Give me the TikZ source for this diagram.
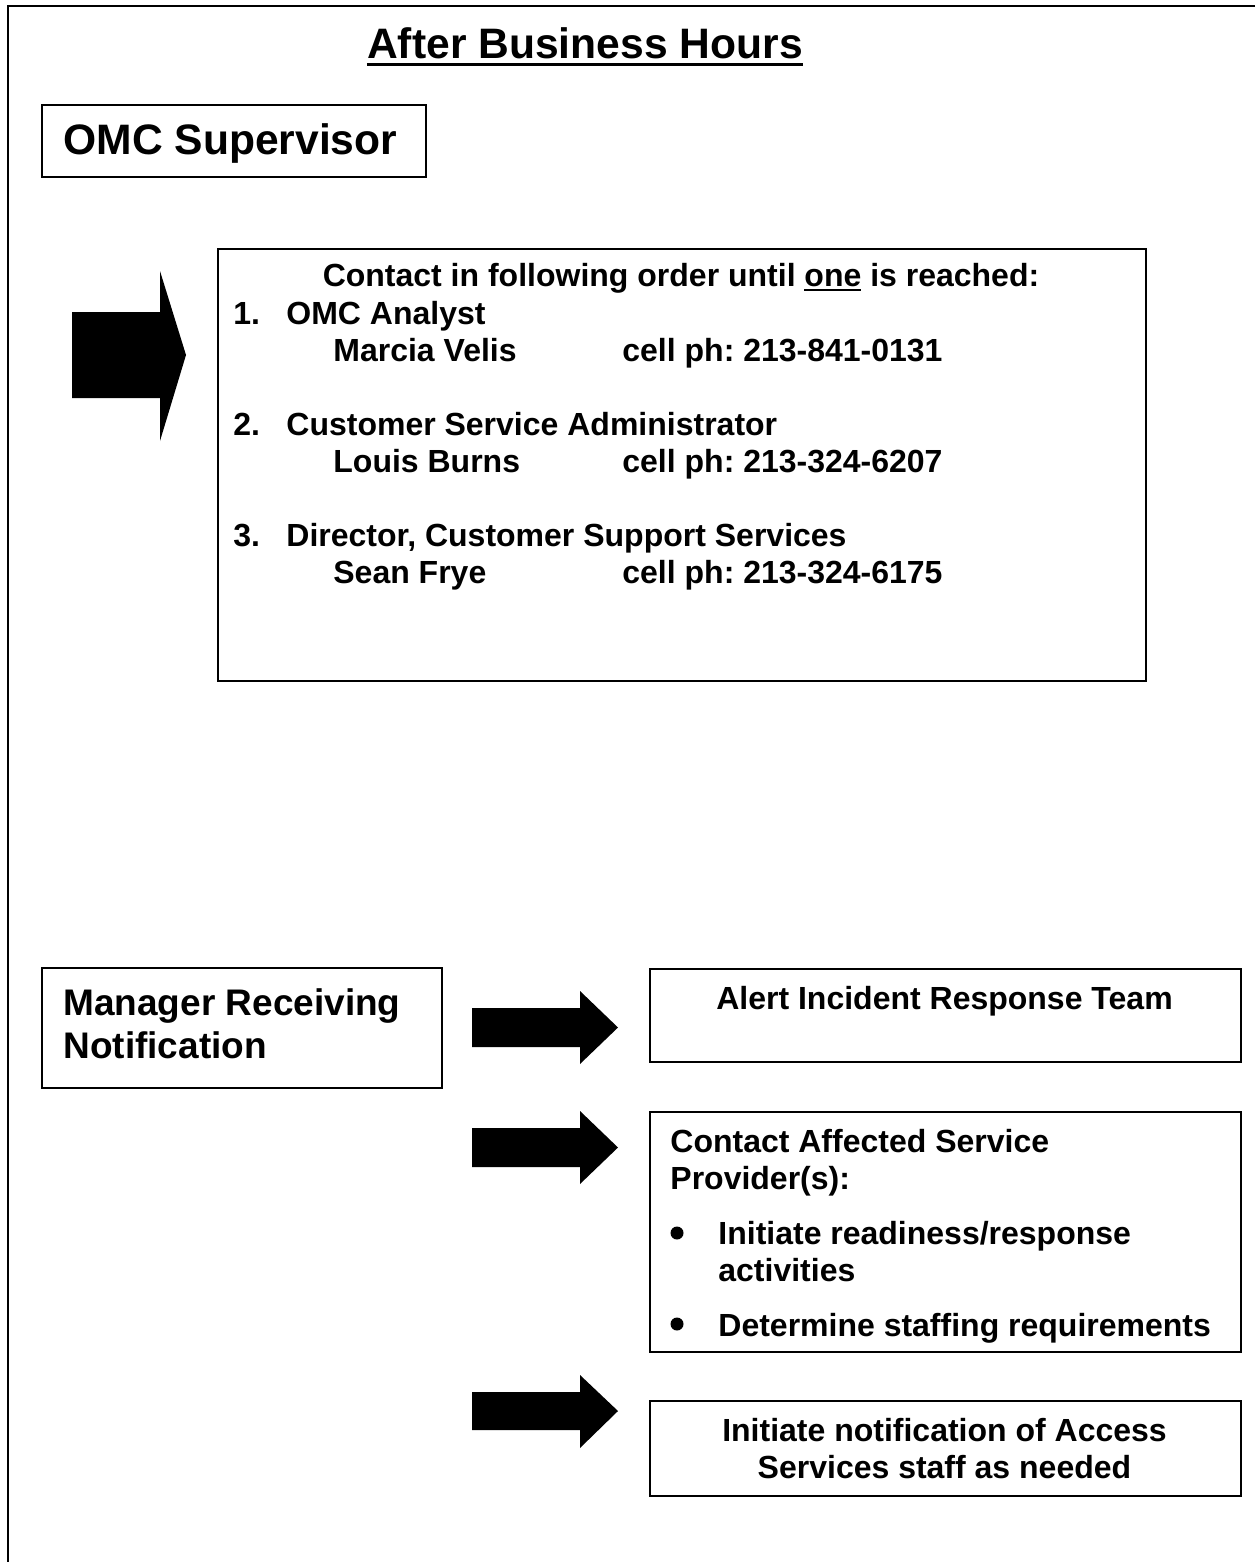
\documentclass[tikz,border=0pt]{standalone}
\usepackage{fontspec}
\setmainfont{Liberation Sans}
\frenchspacing
\newcommand\myul[1]{\setbox0\hbox{#1}\rlap{\rule[-2.6pt]{\wd0}{1pt}}\box0\relax}
\begin{document}
\begin{tikzpicture}[x=0.5pt,y=-0.5pt,
  box/.style={draw, line width=0.8pt, inner sep=0pt, anchor=north west},
  txt/.style={inner sep=0pt, anchor=base west, font=\fontsize{16}{18.4}\selectfont\bfseries},
  ctxt/.style={txt, anchor=base},
  bigtxt/.style={txt, font=\fontsize{21.3}{24.5}\selectfont\bfseries},
  midtxt/.style={txt, font=\fontsize{18.5}{21.3}\selectfont\bfseries},
  blockarrow/.style={fill=black}]
\useasboundingbox (0,0) rectangle (1255,1562);
% outer frame (top and left visible)
\draw[line width=1.2pt] (1255,6) -- (8,6) -- (8,1562);

% title
\node[bigtxt, anchor=base] (title) at (585,59) {After Business Hours};
\draw[line width=1.5pt] ([yshift=-2.8pt]title.base west) -- ([yshift=-2.8pt]title.base east);

% OMC Supervisor
\node[box, minimum width=192pt, minimum height=36pt] (omcbox) at (41,104) {};
\node[bigtxt] (omc) at (63,155) {OMC Supervisor};

% big block arrow
\fill[blockarrow] (72,312) -- (160,312) -- (160,271) -- (186,355) -- (160,441) -- (160,398) -- (72,398) -- cycle;

% contact box
\node[box, minimum width=464pt, minimum height=216pt] (cbox) at (217,248) {};
\node[ctxt] (chead) at (681,286) {Contact in following order until \myul{one} is reached:};
\node[txt] (n1) at (233,324) {1.};
\node[txt] (r1) at (286,324) {OMC Analyst};
\node[txt] (p1) at (333,361) {Marcia Velis};
\node[txt] (t1) at (622,361) {cell ph: 213-841-0131};
\node[txt] (n2) at (233,435) {2.};
\node[txt] (r2) at (286,435) {Customer Service Administrator};
\node[txt] (p2) at (333,472) {Louis Burns};
\node[txt] (t2) at (622,472) {cell ph: 213-324-6207};
\node[txt] (n3) at (233,546) {3.};
\node[txt] (r3) at (286,546) {Director, Customer Support Services};
\node[txt] (p3) at (333,583) {Sean Frye};
\node[txt] (t3) at (622,583) {cell ph: 213-324-6175};

% manager box
\node[box, minimum width=200pt, minimum height=60pt] (mgrbox) at (41,967) {};
\node[midtxt] (mgr1) at (63,1015) {Manager Receiving};
\node[midtxt] (mgr2) at (63,1058) {Notification};

% small block arrows
\fill[blockarrow] (472,1008) -- (580,1008) -- (580,991) -- (618,1027.5) -- (580,1064) -- (580,1047) -- (472,1047) -- cycle;
\fill[blockarrow] (472,1128) -- (580,1128) -- (580,1111) -- (618,1147.5) -- (580,1184) -- (580,1167) -- (472,1167) -- cycle;
\fill[blockarrow] (472,1392) -- (580,1392) -- (580,1375) -- (618,1411) -- (580,1448) -- (580,1430) -- (472,1430) -- cycle;

% alert box
\node[box, minimum width=295.5pt, minimum height=46.5pt] (alertbox) at (649,968) {};
\node[ctxt] (alert) at (944.5,1009) {Alert Incident Response Team};

% affected providers box
\node[box, minimum width=295.5pt, minimum height=120pt] (affbox) at (649,1111) {};
\node[txt] (aff1) at (670,1152) {Contact Affected Service};
\node[txt] (aff2) at (670,1189) {Provider(s):};
\fill (677,1233) circle (6.5);
\node[txt] (b1a) at (718,1244) {Initiate readiness/response};
\node[txt] (b1b) at (718,1281) {activities};
\fill (677,1324) circle (6.5);
\node[txt] (b2) at (718,1336) {Determine staffing requirements};

% initiate notification box
\node[box, minimum width=295.5pt, minimum height=47.5pt] (initbox) at (649,1400) {};
\node[ctxt] (init1) at (944.5,1441) {Initiate notification of Access};
\node[ctxt] (init2) at (944.5,1478) {Services staff as needed};
\end{tikzpicture}
\end{document}
